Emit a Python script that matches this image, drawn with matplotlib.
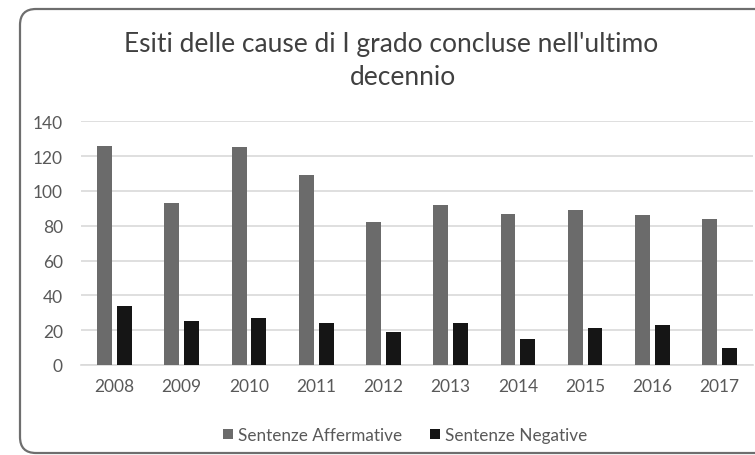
import numpy as np
import matplotlib
matplotlib.use("Agg")
import matplotlib.pyplot as plt
from matplotlib.patches import FancyBboxPatch, Patch

plt.rcParams["font.family"] = ["Lato", "DejaVu Sans"]

# data
years = ["2008", "2009", "2010", "2011", "2012",
         "2013", "2014", "2015", "2016", "2017"]
affermative = [126, 93, 125, 109, 82, 92, 87, 89, 86, 84]
negative = [34, 25, 27, 24, 19, 24, 15, 21, 23, 10]
series_names = ["Sentenze Affermative", "Sentenze Negative"]
title = "Esiti delle cause di I grado concluse nell'ultimo\ndecennio"

GRAY = "#6b6b6b"
BLACK = "#151515"
TEXT = "#595959"
GRID = "#d9d9d9"

W, H = 755, 456
fig = plt.figure(figsize=(W / 100, H / 100), dpi=100)
fig.patch.set_facecolor("white")

# background layer in pixel units for the rounded chart frame
bg = fig.add_axes([0, 0, 1, 1], zorder=-1)
bg.set_xlim(0, W)
bg.set_ylim(H, 0)
bg.set_axis_off()
frame = FancyBboxPatch((20, 10), 780, 444,
                       boxstyle="round,pad=0,rounding_size=16",
                       facecolor="white", edgecolor="#6e6e6e", linewidth=1.6)
bg.add_patch(frame)

# plot area
ax = fig.add_axes([80.9 / W, 1 - 366 / H, (753.3 - 80.9) / W, (366 - 122.3) / H])
ax.set_facecolor("none")

x = np.arange(len(years))
width = 0.22
off = 0.147
ax.bar(x - off, affermative, width, color=GRAY, zorder=3)
ax.bar(x + off, negative, width, color=BLACK, zorder=3)

ax.set_xlim(-0.5, len(years) - 0.5)
ax.set_ylim(0, 140)
ax.set_yticks(range(0, 141, 20))
ax.set_xticks(x)
ax.set_xticklabels(years)
ax.yaxis.grid(True, color=GRID, linewidth=1.2, zorder=0)
ax.set_axisbelow(True)
for side in ["top", "right", "left"]:
    ax.spines[side].set_visible(False)
ax.spines["bottom"].set_color(GRID)
ax.spines["bottom"].set_linewidth(1.2)
ax.tick_params(axis="both", length=0, labelsize=12.5, labelcolor=TEXT)
ax.tick_params(axis="y", pad=13)
ax.tick_params(axis="x", pad=9)

# title: each wrapped line centred on its own, like the original
line1, line2 = title.split("\n")
bg.text(391, 52, line1, ha="center", va="baseline", fontsize=19, color="#404040")
bg.text(403, 85, line2, ha="center", va="baseline", fontsize=19, color="#404040")

handles = [Patch(facecolor=GRAY), Patch(facecolor=BLACK)]
fig.legend(handles, series_names, loc="center", bbox_to_anchor=(405 / W, 1 - 436 / H),
           ncol=2, frameon=False, fontsize=12.3, labelcolor=TEXT,
           handlelength=0.6, handleheight=0.6, handletextpad=0.3, columnspacing=1.6)

fig.savefig("out.png", dpi=100, facecolor="white")
